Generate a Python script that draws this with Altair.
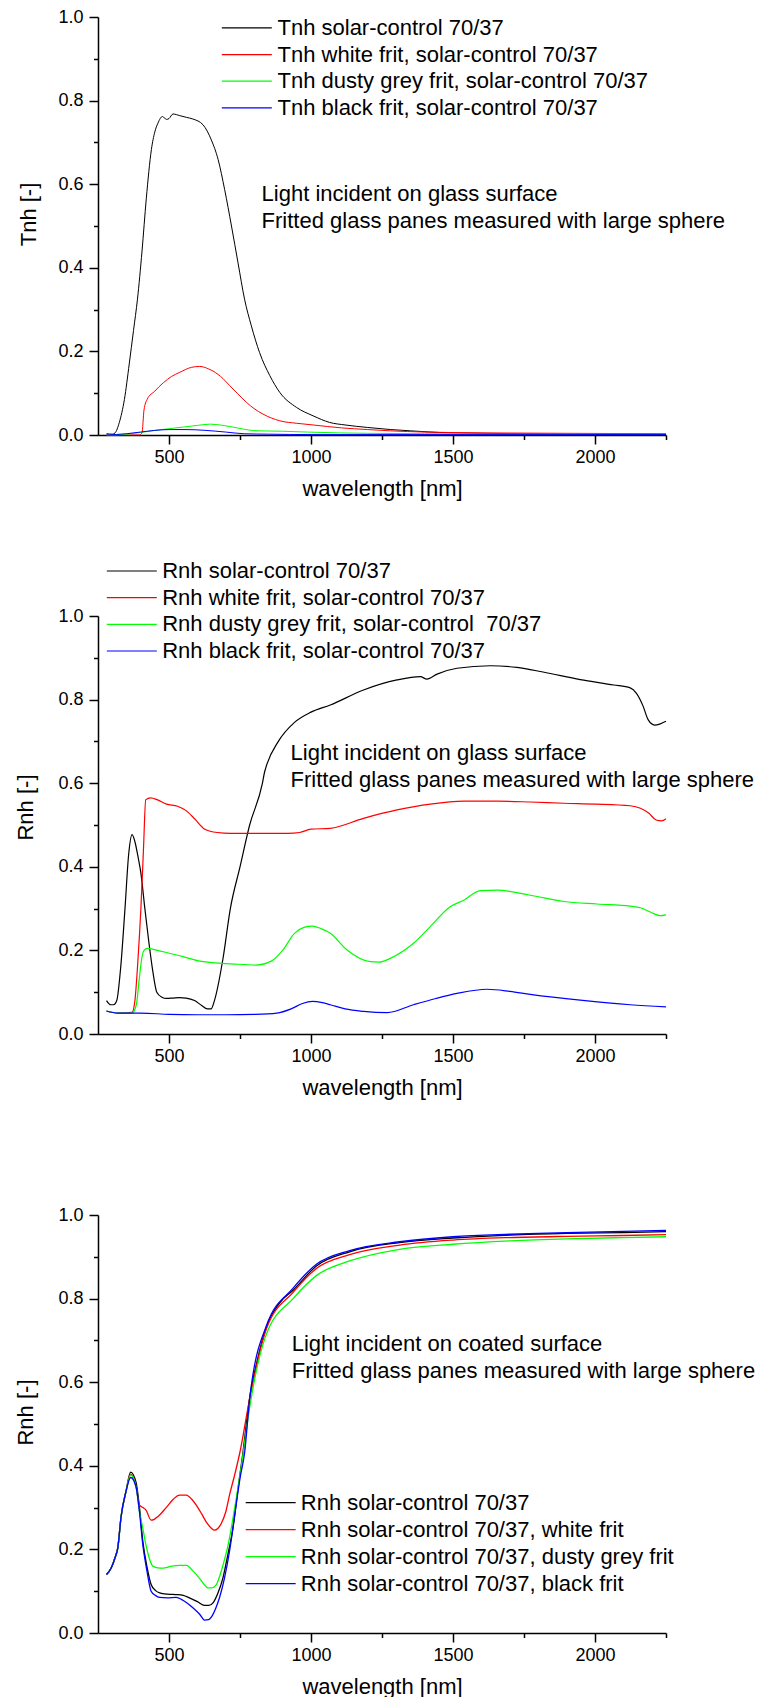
import altair as alt
import pandas as pd

FONT = "Liberation Sans"
COLORS = ["#000000", "#ff0000", "#00ff00", "#0000ff"]

X_MAJOR = [500, 1000, 1500, 2000]
X_MINOR = [750, 1250, 1750, 2250]
Y_MAJOR = [0.0, 0.2, 0.4, 0.6, 0.8, 1.0]
Y_MINOR = [0.1, 0.3, 0.5, 0.7, 0.9]

# ---------------- Panel 1: Tnh, light incident on glass surface ----------------
P1_LABELS = [
    "Tnh solar-control 70/37",
    "Tnh white frit, solar-control 70/37",
    "Tnh dusty grey frit, solar-control 70/37",
    "Tnh black frit, solar-control 70/37",
]
P1_TITLE = "Tnh [-]"
P1_NOTE = ["Light incident on glass surface", "Fritted glass panes measured with large sphere"]

P1_BLACK_NM = [280, 300, 310, 325, 343, 360, 375, 389, 405, 420, 438, 450, 461, 477, 491, 500,
               514, 538, 561, 584, 620, 649, 673, 696, 720, 743, 766, 790, 819, 855, 890, 949,
               1007, 1066, 1120, 1200, 1281, 1350, 1453, 1600, 1800, 2000, 2250]
P1_BLACK = [0.003, 0.002, 0.005, 0.03, 0.085, 0.17, 0.25, 0.325, 0.44, 0.565, 0.683, 0.725, 0.746,
            0.762, 0.755, 0.757, 0.768, 0.764, 0.76, 0.756, 0.742, 0.706, 0.659, 0.587, 0.50,
            0.412, 0.325, 0.261, 0.197, 0.142, 0.102, 0.066, 0.046, 0.030, 0.024, 0.018, 0.013,
            0.01, 0.006, 0.004, 0.003, 0.002, 0.002]
P1_RED_NM = [280, 395, 405, 412, 423, 450, 480, 509, 538, 580, 608, 640, 655, 690, 714, 740, 773,
             800, 831, 890, 950, 1007, 1108, 1200, 1279, 1400, 1620, 1900, 2250]
P1_RED = [0.0, 0.0, 0.005, 0.06, 0.085, 0.105, 0.125, 0.14, 0.15, 0.162, 0.164, 0.158, 0.153,
          0.135, 0.118, 0.10, 0.078, 0.063, 0.05, 0.034, 0.028, 0.024, 0.017, 0.013, 0.01, 0.007,
          0.005, 0.004, 0.003]
P1_GREEN_NM = [280, 350, 400, 450, 500, 550, 600, 646, 690, 740, 780, 817, 900, 988, 1100, 1200,
               1400, 1800, 2250]
P1_GREEN = [0.0, 0.002, 0.006, 0.011, 0.015, 0.019, 0.023, 0.026, 0.023, 0.017, 0.012, 0.01, 0.009,
            0.007, 0.005, 0.004, 0.003, 0.002, 0.002]
P1_BLUE_NM = [280, 350, 400, 450, 500, 560, 630, 700, 765, 850, 1000, 2250]
P1_BLUE = [0.0, 0.003, 0.007, 0.011, 0.013, 0.013, 0.011, 0.007, 0.003, 0.002, 0.001, 0.001]

# ---------------- Panel 2: Rnh, light incident on glass surface ----------------
P2_LABELS = [
    "Rnh solar-control 70/37",
    "Rnh white frit, solar-control 70/37",
    "Rnh dusty grey frit, solar-control\u00a0 70/37",
    "Rnh black frit, solar-control 70/37",
]
P2_TITLE = "Rnh [-]"
P2_NOTE = ["Light incident on glass surface", "Fritted glass panes measured with large sphere"]

P2_BLACK_NM = [280, 295, 305, 316, 330, 345, 358, 370, 380, 392, 401, 415, 429, 443, 457, 475, 491,
               515, 536, 560, 590, 615, 635, 648, 660, 690, 716, 750, 784, 829, 836, 840, 885, 941,
               1000, 1068, 1185, 1303, 1385, 1408, 1444, 1514, 1631, 1725, 1817, 1948, 2066, 2124,
               2146, 2169, 2187, 2210, 2230, 2250]
P2_BLACK = [0.08, 0.07, 0.07, 0.08, 0.16, 0.30, 0.43, 0.477, 0.46, 0.42, 0.385, 0.30, 0.22, 0.15,
            0.10, 0.088, 0.085, 0.086, 0.087, 0.086, 0.08, 0.068, 0.06, 0.06, 0.08, 0.18, 0.30, 0.40,
            0.50, 0.60, 0.625, 0.635, 0.70, 0.745, 0.77, 0.787, 0.823, 0.847, 0.855, 0.849, 0.861,
            0.875, 0.881, 0.877, 0.866, 0.848, 0.835, 0.828, 0.815, 0.785, 0.752, 0.739, 0.742, 0.748]
P2_RED_NM = [280, 320, 370, 380, 390, 401, 410, 418, 435, 460, 491, 530, 559, 590, 626, 670, 716,
             780, 829, 919, 960, 1000, 1068, 1185, 1303, 1420, 1538, 1655, 1772, 1890, 2000, 2124,
             2160, 2190, 2215, 2235, 2250]
P2_RED = [0.055, 0.05, 0.052, 0.08, 0.17, 0.30, 0.44, 0.56, 0.565, 0.56, 0.55, 0.545, 0.535, 0.515,
          0.49, 0.482, 0.48, 0.48, 0.48, 0.48, 0.482, 0.49, 0.492, 0.516, 0.536, 0.55, 0.557, 0.557,
          0.555, 0.552, 0.55, 0.546, 0.54, 0.528, 0.512, 0.51, 0.515]
P2_GREEN_NM = [280, 320, 370, 385, 395, 405, 412, 423, 460, 491, 550, 604, 660, 716, 806, 862, 900,
               941, 975, 1005, 1035, 1068, 1127, 1209, 1240, 1279, 1361, 1420, 1491, 1538, 1596,
               1655, 1772, 1890, 2007, 2124, 2160, 2200, 2230, 2250]
P2_GREEN = [0.055, 0.05, 0.05, 0.07, 0.13, 0.185, 0.20, 0.205, 0.20, 0.195, 0.185, 0.175, 0.17,
            0.168, 0.165, 0.175, 0.20, 0.24, 0.255, 0.258, 0.252, 0.241, 0.201, 0.173, 0.172, 0.181,
            0.217, 0.257, 0.305, 0.32, 0.343, 0.344, 0.332, 0.317, 0.311, 0.306, 0.302, 0.29, 0.283,
            0.285]
P2_BLUE_NM = [280, 320, 400, 500, 600, 700, 800, 880, 930, 970, 1005, 1040, 1068, 1120, 1185, 1268,
              1361, 1440, 1514, 1620, 1700, 1772, 1948, 2124, 2250]
P2_BLUE = [0.055, 0.05, 0.05, 0.047, 0.046, 0.046, 0.047, 0.05, 0.06, 0.073, 0.078, 0.075, 0.07,
           0.06, 0.054, 0.051, 0.07, 0.085, 0.097, 0.107, 0.102, 0.095, 0.081, 0.07, 0.065]

# ---------------- Panel 3: Rnh, light incident on coated surface ----------------
P3_LABELS = [
    "Rnh solar-control 70/37",
    "Rnh solar-control 70/37, white frit",
    "Rnh solar-control 70/37, dusty grey frit",
    "Rnh solar-control 70/37, black frit",
]
P3_TITLE = "Rnh [-]"
P3_NOTE = ["Light incident on coated surface", "Fritted glass panes measured with large sphere"]

P3_BLACK_NM = [280, 296, 310, 320, 331, 349, 365, 384, 396, 408, 422, 437, 452, 467, 495, 525, 550,
               572, 600, 625, 640, 655, 672, 690, 708, 725, 742, 760, 784, 810, 843, 890, 937, 1019,
               1136, 1312, 1500, 1700, 1900, 2100, 2250]
P3_BLACK = [0.14, 0.155, 0.18, 0.205, 0.277, 0.34, 0.385, 0.36, 0.30, 0.218, 0.16, 0.116, 0.102,
            0.096, 0.093, 0.092, 0.09, 0.084, 0.075, 0.066, 0.066, 0.072, 0.095, 0.132, 0.19, 0.25,
            0.34, 0.43, 0.563, 0.65, 0.732, 0.79, 0.82, 0.878, 0.912, 0.934, 0.945, 0.952, 0.956,
            0.958, 0.96]
P3_RED_NM = [280, 296, 310, 320, 331, 349, 365, 384, 396, 408, 419, 437, 448, 460, 490, 515, 537,
             561, 580, 596, 615, 631, 650, 660, 672, 684, 700, 713, 730, 749, 784, 843, 937, 1019,
             1136, 1312, 1500, 1700, 1900, 2100, 2250]
P3_RED = [0.14, 0.155, 0.18, 0.205, 0.277, 0.34, 0.38, 0.35, 0.306, 0.30, 0.294, 0.27, 0.272,
          0.278, 0.30, 0.32, 0.33, 0.33, 0.32, 0.306, 0.285, 0.266, 0.25, 0.246, 0.25, 0.262, 0.29,
          0.33, 0.375, 0.43, 0.56, 0.728, 0.815, 0.872, 0.905, 0.928, 0.94, 0.946, 0.949, 0.951,
          0.953]
P3_GREEN_NM = [280, 296, 310, 320, 331, 349, 365, 384, 396, 408, 419, 430, 443, 460, 478, 510, 537,
               561, 585, 608, 625, 637, 650, 666, 678, 690, 708, 725, 740, 754, 784, 843, 937, 1019,
               1136, 1312, 1500, 1700, 1900, 2100, 2250]
P3_GREEN = [0.14, 0.155, 0.18, 0.205, 0.277, 0.34, 0.378, 0.35, 0.29, 0.25, 0.21, 0.18, 0.16,
            0.156, 0.155, 0.16, 0.162, 0.162, 0.148, 0.13, 0.115, 0.108, 0.108, 0.115, 0.135, 0.162,
            0.21, 0.273, 0.335, 0.395, 0.54, 0.715, 0.80, 0.855, 0.89, 0.918, 0.93, 0.938, 0.943,
            0.946, 0.948]
P3_BLUE_NM = [280, 296, 310, 320, 331, 349, 365, 384, 396, 408, 422, 437, 452, 467, 495, 525, 545,
              561, 585, 608, 625, 640, 649, 665, 678, 695, 713, 735, 750, 766, 784, 843, 937, 1019,
              1136, 1312, 1500, 1700, 1900, 2100, 2250]
P3_BLUE = [0.14, 0.155, 0.18, 0.205, 0.277, 0.34, 0.372, 0.35, 0.29, 0.21, 0.15, 0.10, 0.09, 0.085,
           0.084, 0.085, 0.08, 0.073, 0.06, 0.045, 0.031, 0.032, 0.038, 0.06, 0.085, 0.13, 0.195,
           0.30, 0.37, 0.43, 0.56, 0.735, 0.825, 0.882, 0.915, 0.936, 0.948, 0.954, 0.958, 0.961,
           0.963]


def long_df(labels, series):
    rows = []
    for lab, (nm, val) in zip(labels, series):
        for i, (a, b) in enumerate(zip(nm, val)):
            rows.append({"series": lab, "nm": a, "val": b, "i": i})
    return pd.DataFrame(rows)


def panel(df, labels, ytitle, note, leg, ann, sw, title_pad, title_y):
    xs = alt.Scale(domain=[250, 2250], nice=False, zero=False)
    ys = alt.Scale(domain=[0, 1], nice=False, zero=False)
    cs = alt.Scale(domain=labels, range=COLORS)
    xa = alt.Axis(values=X_MAJOR, title="wavelength [nm]", tickSize=9, labelPadding=4,
                  titlePadding=12, orient="bottom", format="d", grid=False)
    ya = alt.Axis(values=Y_MAJOR, title=ytitle, tickSize=9, labelPadding=6,
                  titlePadding=title_pad, titleY=title_y, format=".1f", orient="left",
                  grid=False)
    xm = alt.Axis(values=X_MINOR, tickSize=4.5, labels=False, domain=False, orient="bottom",
                  grid=False)
    ym = alt.Axis(values=Y_MINOR, tickSize=4.5, labels=False, domain=False, orient="left",
                  grid=False)

    lines = alt.Chart(df).mark_line(strokeWidth=sw, interpolate="monotone").encode(
        x=alt.X("nm:Q", scale=xs, axis=xa),
        y=alt.Y("val:Q", scale=ys, axis=ya),
        color=alt.Color("series:N", scale=cs, legend=None),
        order=alt.Order("i:Q"),
    )

    x0, x1, tx, y0, dy = leg
    leg_df = pd.DataFrame({"series": labels, "row": list(range(len(labels)))})
    leg_base = alt.Chart(leg_df).transform_calculate(
        lx0=str(x0), lx1=str(x1), tx=str(tx), ly=f"{y0} - datum.row * {dy}"
    )
    leg_rules = leg_base.mark_rule(strokeWidth=1.2).encode(
        x=alt.X("lx0:Q", scale=xs, axis=None),
        x2="lx1:Q",
        y=alt.Y("ly:Q", scale=ys, axis=None),
        color=alt.Color("series:N", scale=cs, legend=None),
    )
    leg_text = leg_base.mark_text(align="left", baseline="middle", font=FONT, fontSize=22,
                                  color="black").encode(
        x=alt.X("tx:Q", scale=xs, axis=None),
        y=alt.Y("ly:Q", scale=ys, axis=None),
        text="series:N",
    )

    ax, ay0, ady = ann
    ann_df = pd.DataFrame({"note": note, "row": list(range(len(note)))})
    notes = alt.Chart(ann_df).transform_calculate(
        ax=str(ax), ay=f"{ay0} - datum.row * {ady}"
    ).mark_text(align="left", baseline="middle", font=FONT, fontSize=22, color="black").encode(
        x=alt.X("ax:Q", scale=xs, axis=xm, title=None),
        y=alt.Y("ay:Q", scale=ys, axis=ym, title=None),
        text="note:N",
    )

    return alt.layer(lines, leg_rules, leg_text, notes).resolve_axis(
        x="independent", y="independent"
    ).properties(width=568, height=418)


df1 = long_df(P1_LABELS, [(P1_BLACK_NM, P1_BLACK), (P1_RED_NM, P1_RED),
                          (P1_GREEN_NM, P1_GREEN), (P1_BLUE_NM, P1_BLUE)])
df2 = long_df(P2_LABELS, [(P2_BLACK_NM, P2_BLACK), (P2_RED_NM, P2_RED),
                          (P2_GREEN_NM, P2_GREEN), (P2_BLUE_NM, P2_BLUE)])
df3 = long_df(P3_LABELS, [(P3_BLACK_NM, P3_BLACK), (P3_RED_NM, P3_RED),
                          (P3_GREEN_NM, P3_GREEN), (P3_BLUE_NM, P3_BLUE)])

p1 = panel(df1, P1_LABELS, P1_TITLE, P1_NOTE,
           leg=(686, 862, 882, 0.974, 0.0638), ann=(826, 0.576, 0.063), sw=1.0,
           title_pad=17, title_y=197)
p2 = panel(df2, P2_LABELS, P2_TITLE, P2_NOTE,
           leg=(281, 457, 476, 1.1077, 0.0638), ann=(928, 0.672, 0.0645), sw=1.2,
           title_pad=20, title_y=191)
p3 = panel(df3, P3_LABELS, P3_TITLE, P3_NOTE,
           leg=(770, 946, 964, 0.312, 0.0646), ann=(932, 0.691, 0.0645), sw=1.3,
           title_pad=20, title_y=197)

chart = alt.vconcat(p1, p2, p3, spacing=181, bounds="flush").resolve_scale(
    color="independent"
).properties(
    padding={"left": 6, "top": 0, "right": 0, "bottom": 0}
).configure_axis(
    labelFont=FONT, titleFont=FONT, labelFontSize=18, titleFontSize=22,
    titleFontWeight="normal", labelColor="black", titleColor="black",
    domainColor="black", tickColor="black", domainWidth=1.5, tickWidth=1.5, grid=False,
).configure_view(stroke=None)

chart.save("out.html", embed_options={"renderer": "svg", "actions": False})
